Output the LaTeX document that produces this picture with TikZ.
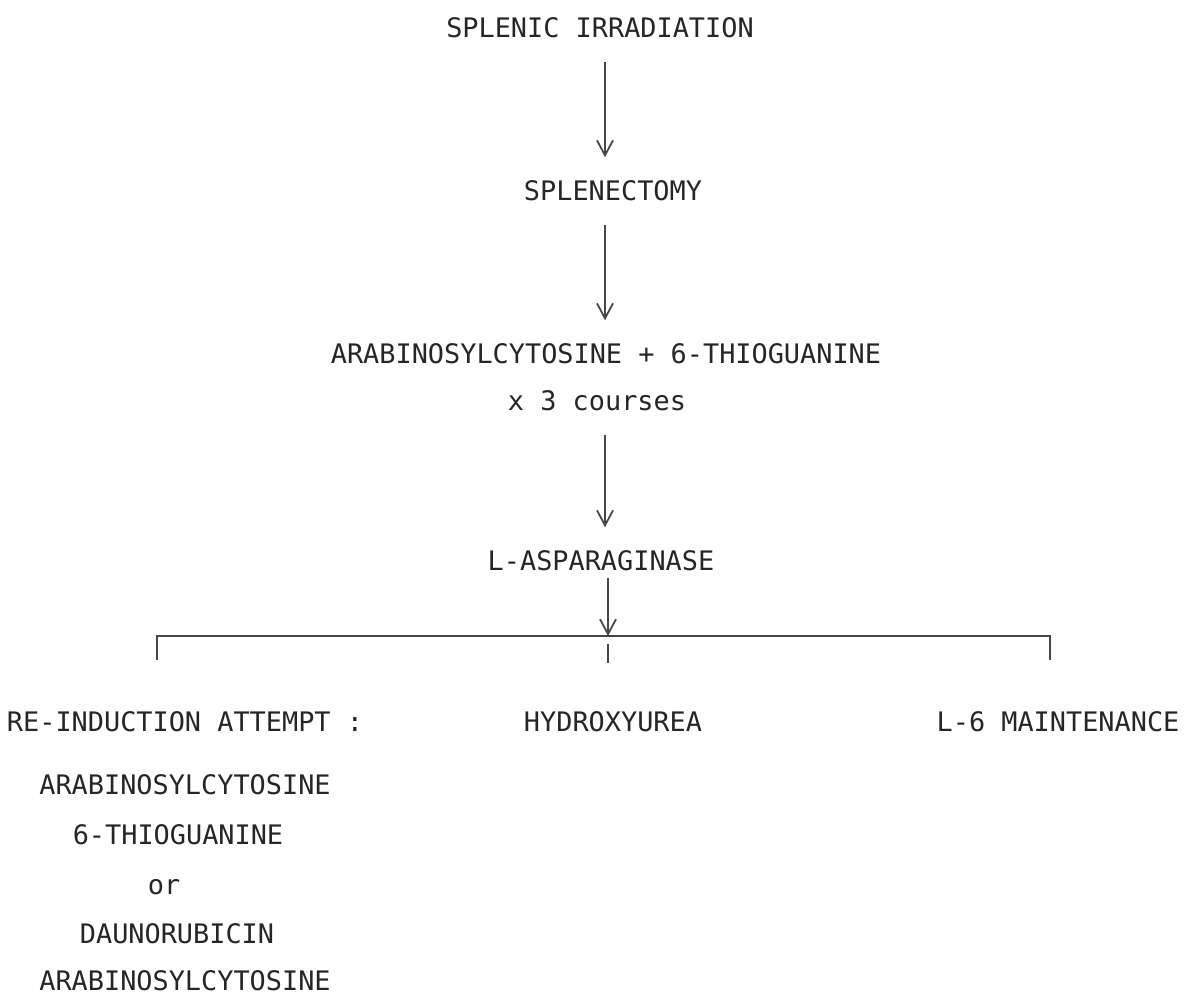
\documentclass[tikz,border=0pt]{standalone}
\usepackage{fontspec}
\setmainfont{DejaVu Sans Mono}
\usetikzlibrary{arrows.meta}
\tikzset{
  >={Straight Barb[length=3mm,width=3.2mm]},
  line/.style={draw=black!72,line width=1pt},
  flow/.style={line,->,shorten <=0.5cm,shorten >=0.45cm},
  label/.style={anchor=base,inner sep=0pt,font=\fontsize{15.3}{18}\selectfont,text=black!85},
}

\begin{document}
\begin{tikzpicture}[x=0.02cm,y=-0.02cm]
\useasboundingbox (0,0) rectangle (1199,995);

% main line
\node[label] (irr) at (600,37) {SPLENIC IRRADIATION};
\node[label] (spl) at (613,200) {SPLENECTOMY};
\node[label] (ara) at (606,363) {ARABINOSYLCYTOSINE + 6-THIOGUANINE};
\node[label] (crs) at (597,410) {x 3 courses};
\node[label] (asp) at (601,570) {L-ASPARAGINASE};

% branches
\node[label] (reind) at (185,731) {RE-INDUCTION ATTEMPT :};
\node[label] (hyd) at (613,731) {HYDROXYUREA};
\node[label] (mnt) at (1058,731) {L-6 MAINTENANCE};
\node[label] (r1) at (185,794) {ARABINOSYLCYTOSINE};
\node[label] (r2) at (178,844) {6-THIOGUANINE};
\node[label] (r3) at (164,894) {or};
\node[label] (r4) at (177,943) {DAUNORUBICIN};
\node[label] (r5) at (185,990) {ARABINOSYLCYTOSINE};

\coordinate (spine) at (605,0);
\coordinate (bar) at (608,636);
\coordinate (lft) at (157,660);
\coordinate (rgt) at (1050,660);

\draw[flow] (spine |- irr.base) -- (spine |- spl.north);
\draw[flow] (spine |- spl.base) -- (spine |- ara.north);
\draw[flow] (spine |- crs.base) -- (spine |- asp.north);
\draw[line,->,shorten <=0.16cm] (bar |- asp.base) -- (bar);
\draw[line] (lft) -- (lft |- bar) -- (rgt |- bar) -- (rgt);
\draw[line,shorten <=0.16cm,shorten >=0.96cm] (bar) -- (bar |- hyd.north);
\end{tikzpicture}
\end{document}
